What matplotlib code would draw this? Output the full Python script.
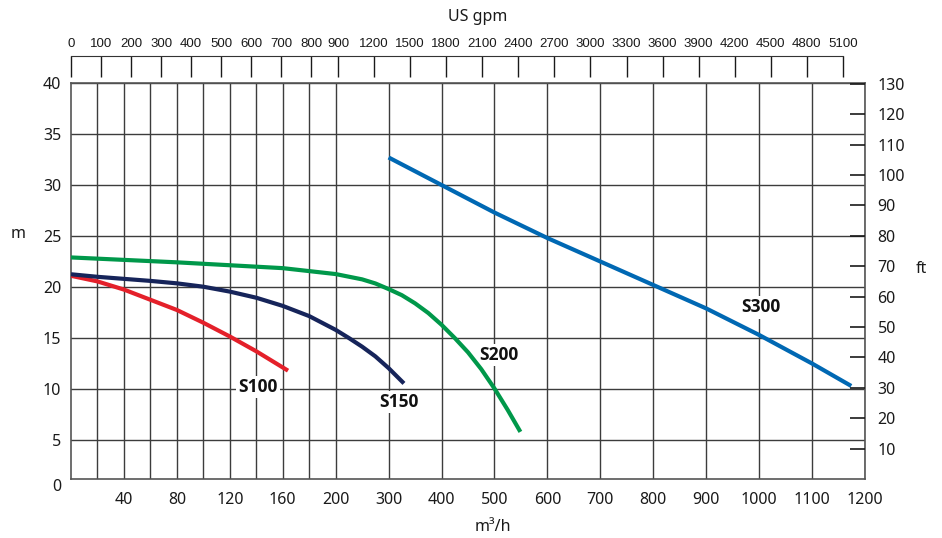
import numpy as np
import matplotlib
matplotlib.use('Agg')
import matplotlib.pyplot as plt
from matplotlib.transforms import ScaledTranslation

plt.rcParams['font.family'] = ['Noto Sans', 'DejaVu Sans']

# curvas das bombas: vazão (m3/h) e altura (m)
s100_q = [0, 20, 40, 60, 80, 100, 120, 140, 164]
s100_h = [21.1, 20.55, 19.75, 18.75, 17.75, 16.5, 15.15, 13.7, 11.8]

s150_q = [0, 20, 40, 60, 80, 100, 120, 140, 160, 180, 200, 225, 250, 275, 300, 329]
s150_h = [21.25, 21.0, 20.8, 20.6, 20.36, 20.03, 19.55, 18.95, 18.15, 17.15, 15.8,
          15.0, 14.15, 13.2, 12.05, 10.55]

s200_q = [0, 80, 160, 200, 250, 275, 300, 325, 350, 375, 400, 425, 450, 475, 500, 525, 549]
s200_h = [22.9, 22.42, 21.85, 21.27, 20.75, 20.35, 19.8, 19.2, 18.4, 17.45, 16.3,
          15.0, 13.6, 11.95, 10.05, 7.95, 5.8]

s300_q = [300, 400, 500, 600, 700, 800, 900, 1000, 1100, 1174]
s300_h = [32.7, 30.0, 27.3, 24.8, 22.5, 20.2, 17.9, 15.3, 12.5, 10.3]

series = [('S100', s100_q, s100_h, '#e4202a', (141.5, 10.2)),
          ('S150', s150_q, s150_h, '#16245a', (319, 8.75)),
          ('S200', s200_q, s200_h, '#00984a', (508, 13.3)),
          ('S300', s300_q, s300_h, '#0068b3', (1004, 18.0))]

# eixos
x_labels = [40, 80, 120, 160, 200, 300, 400, 500, 600, 700, 800, 900, 1000, 1100, 1200]
x_minor = [20, 60, 100, 140, 180]
y_labels = [5, 10, 15, 20, 25, 30, 35, 40]
ft_labels = [10, 20, 30, 40, 50, 60, 70, 80, 90, 100, 110, 120, 130]
gpm_labels = [0, 100, 200, 300, 400, 500, 600, 700, 800, 900,
              1200, 1500, 1800, 2100, 2400, 2700, 3000, 3300, 3600, 3900,
              4200, 4500, 4800, 5100]
GPM_POR_M3H = 4.403
Y_BASE = 1.18  # fundo do eixo, rotulado "0"


# escala em dois trechos: 0-200 ocupa um terço, 200-1200 o resto
def fwd(q):
    q = np.asarray(q, dtype=float)
    return np.where(q <= 200, q / 200, 1 + (q - 200) / 500)


def inv(u):
    u = np.asarray(u, dtype=float)
    return np.where(u <= 1, u * 200, 200 + (u - 1) * 500)


W, H = 942, 538
fig = plt.figure(figsize=(W / 100, H / 100), dpi=100)
ax = fig.add_axes([71 / W, 1 - 479 / H, 794 / W, 396 / H])
ax.set_xscale('function', functions=(fwd, inv))
ax.set_xlim(0, 1200)
ax.set_ylim(Y_BASE, 40)

grid_color = '#3c3c3c'
ax.set_xticks(x_labels)
ax.set_xticklabels([str(v) for v in x_labels])
ax.set_xticks(x_minor, minor=True)
ax.set_yticks(y_labels)
ax.set_yticklabels([str(v) for v in y_labels])
ax.grid(True, which='both', color=grid_color, linewidth=1.0)
ax.tick_params(which='both', length=0, labelsize=11.5, colors='#1a1a1a')
ax.tick_params(axis='x', pad=9)
ax.tick_params(axis='y', pad=7)
ax.set_axisbelow(True)
for s in ax.spines.values():
    s.set_color('#555555')
    s.set_linewidth(1.2)

# rótulo "0" no fundo do eixo
ax.text(-0.012, 0, '0', transform=ax.transAxes + ScaledTranslation(0, -8 / 100, fig.dpi_scale_trans),
        ha='right', va='center', fontsize=11.5, color='#1a1a1a')

for nome, q, h, cor, pos in series:
    ax.plot(q, h, color=cor, linewidth=3, solid_capstyle='butt', solid_joinstyle='round', zorder=3)
    # caixa branca corta a grade, mas fica sob as curvas
    ax.text(pos[0], pos[1], nome, ha='center', va='center', fontsize=12.5, fontweight='bold',
            family=['Open Sans', 'DejaVu Sans'], color='#111111', zorder=2.5,
            bbox=dict(facecolor='white', edgecolor='none', pad=1.5))

# eixo em pés à direita
axr = ax.twinx()
axr.set_ylim(0, 130.3)
axr.set_yticks(ft_labels)
axr.set_yticklabels([str(v) for v in ft_labels])
axr.tick_params(axis='y', direction='in', length=11, width=1.2, pad=9, labelsize=11.5,
                colors='#1a1a1a')
for s in axr.spines.values():
    s.set_visible(False)

# eixo de galões no topo
axt = fig.add_axes([71 / W, 1 - 77 / H, 794 / W, 21 / H])
axt.set_xscale('function', functions=(fwd, inv))
axt.set_xlim(0, 1200)
axt.patch.set_visible(False)
for lado in ['left', 'right', 'bottom']:
    axt.spines[lado].set_visible(False)
axt.spines['top'].set_bounds(0, gpm_labels[-1] / GPM_POR_M3H)
axt.spines['top'].set_color('#333333')
axt.set_yticks([])
axt.xaxis.tick_top()
axt.set_xticks([g / GPM_POR_M3H for g in gpm_labels])
axt.set_xticklabels([str(g) for g in gpm_labels], family=['Liberation Sans', 'DejaVu Sans'],
                    fontsize=9.5)
axt.tick_params(axis='x', direction='in', length=15, width=1.0, pad=4, colors='#1a1a1a')

fig.text(478 / W, 1 - 17 / H, 'US gpm', ha='center', va='center', fontsize=11.5, color='#1a1a1a')
fig.text(18 / W, 1 - 234 / H, 'm', ha='center', va='center', fontsize=11.5, color='#1a1a1a')
fig.text(921 / W, 1 - 269 / H, 'ft', ha='center', va='center', fontsize=11.5, color='#1a1a1a')
fig.text(493 / W, 1 - 527 / H, 'm³/h', ha='center', va='center', fontsize=11.5, color='#1a1a1a')

fig.savefig('out.png', dpi=100)
